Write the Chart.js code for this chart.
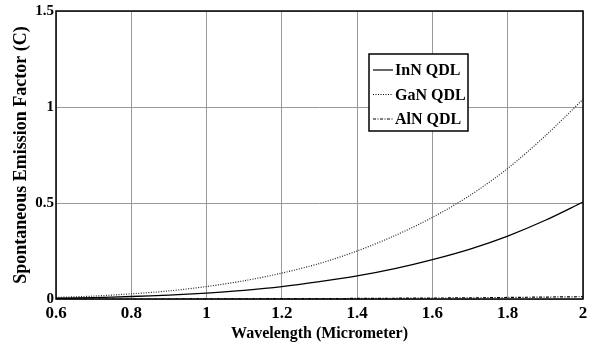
<!DOCTYPE html>
<html><head><meta charset="utf-8">
<script src="https://cdn.jsdelivr.net/npm/chart.js@4/dist/chart.umd.min.js"></script>
<style>html,body{margin:0;padding:0;background:#fff}#wrap{width:592px;height:347px}</style>
</head><body><div id="wrap"><canvas id="c" width="592" height="347"></canvas></div>
<script>
const wavelength = [0.6,0.7,0.8,0.9,1.0,1.1,1.2,1.3,1.4,1.5,1.6,1.7,1.8,1.9,2.0];
const innQDL = [0.004,0.007,0.013,0.02,0.031,0.045,0.064,0.09,0.12,0.158,0.205,0.26,0.328,0.41,0.505];
const ganQDL = [0.008,0.015,0.027,0.042,0.065,0.095,0.135,0.185,0.25,0.33,0.425,0.54,0.68,0.85,1.04];
const alnQDL = [0,0,0,0,0.001,0.001,0.002,0.002,0.003,0.004,0.005,0.006,0.008,0.01,0.012];
const xTicks = [0.6,0.8,1.0,1.2,1.4,1.6,1.8,2.0];
const yTicks = [0,0.5,1,1.5];
const seriesNames = ['InN QDL','GaN QDL','AlN QDL'];

const fmt = v => String(Number(v.toFixed(2)));
const fam = '"Liberation Serif", "Times New Roman", serif';

const boxPlugin = {
  id:'box',
  afterDraw(chart){
    const {ctx, chartArea:a} = chart;
    ctx.save();
    ctx.strokeStyle='#000'; ctx.lineWidth=1.5;
    ctx.strokeRect(a.left, a.top, a.right-a.left, a.bottom-a.top);
    // legend
    const lx=369, ly=54, lw=99, lh=77;
    ctx.fillStyle='#fff'; ctx.fillRect(lx,ly,lw,lh);
    ctx.lineWidth=1.5; ctx.strokeRect(lx,ly,lw,lh);
    const dashes=[[],[1,1.5],[3,1.5,1,1.5]];
    ctx.font='bold 16px ' + fam;
    ctx.textBaseline='middle';
    for(let i=0;i<3;i++){
      const y=ly+16+i*24.5;
      ctx.beginPath(); ctx.setLineDash(dashes[i]); ctx.lineWidth=1.2; ctx.strokeStyle='#000';
      ctx.moveTo(lx+4,y); ctx.lineTo(lx+24,y); ctx.stroke();
      ctx.setLineDash([]);
      ctx.fillStyle='#000'; ctx.fillText(seriesNames[i], lx+26, y+1);
    }
    ctx.restore();
  }
};

new Chart(document.getElementById('c'), {
  type:'line',
  data:{datasets:[
    {label:seriesNames[0], data:wavelength.map((x,i)=>({x, y:innQDL[i]})), borderColor:'#000', borderWidth:1.3, pointRadius:0, tension:0.3},
    {label:seriesNames[1], data:wavelength.map((x,i)=>({x, y:ganQDL[i]})), borderColor:'#222', borderWidth:1.2, borderDash:[1,1.5], pointRadius:0, tension:0.3},
    {label:seriesNames[2], data:wavelength.map((x,i)=>({x, y:alnQDL[i]})), borderColor:'#000', borderWidth:1.2, borderDash:[3,1.5,1,1.5], pointRadius:0, tension:0.3}
  ]},
  options:{
    responsive:false, animation:false,
    layout:{padding:{top:10,right:9,left:0,bottom:0}},
    plugins:{legend:{display:false}, tooltip:{enabled:false}},
    scales:{
      x:{type:'linear', min:0.6, max:2,
        afterBuildTicks(s){ s.ticks = xTicks.map(v=>({value:v})); },
        afterFit(s){ s.height=48; },
        grid:{color:'#999', lineWidth:1, drawTicks:false},
        border:{display:false},
        ticks:{color:'#000', font:{family:fam, weight:'bold', size:17}, padding:4, maxRotation:0, callback:v=>fmt(v)},
        title:{display:true, text:'Wavelength (Micrometer)', color:'#000', font:{family:fam, weight:'bold', size:16}, padding:{top:0,bottom:4}}
      },
      y:{min:0, max:1.5,
        afterBuildTicks(s){ s.ticks = yTicks.map(v=>({value:v})); },
        afterFit(s){ s.width=56; },
        grid:{color:'#999', lineWidth:1, drawTicks:false},
        border:{display:false},
        ticks:{color:'#000', font:{family:fam, weight:'bold', size:15}, padding:2, callback:v=>fmt(v)},
        title:{display:true, text:'Spontaneous Emission Factor (C)', color:'#000', font:{family:fam, weight:'bold', size:18}, padding:{top:11,bottom:0}}
      }
    }
  },
  plugins:[boxPlugin]
});
</script></body></html>
